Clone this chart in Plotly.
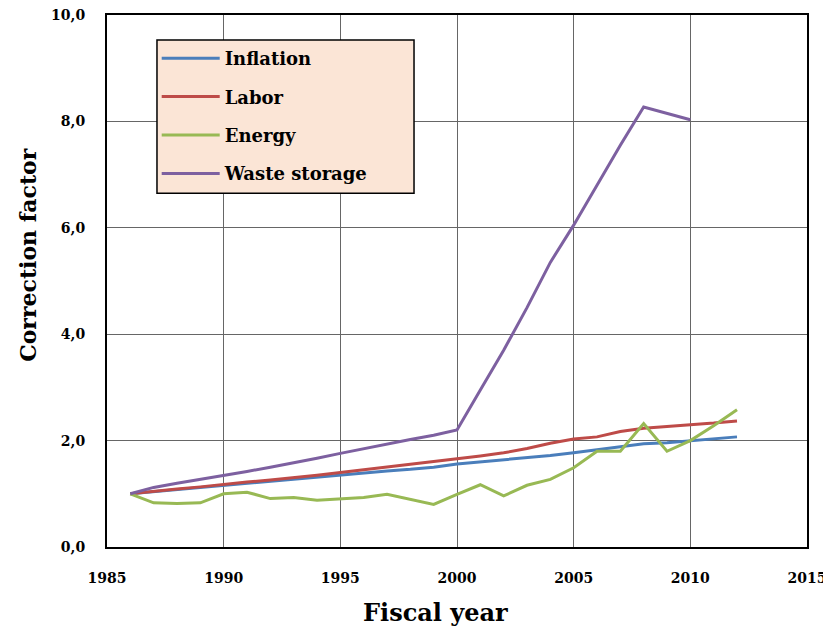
import plotly.graph_objects as go

years_inf = list(range(1986, 2013))
inflation = [1.0, 1.04, 1.08, 1.12, 1.16, 1.2, 1.24, 1.28, 1.31, 1.35, 1.39, 1.43, 1.46, 1.5,
             1.56, 1.6, 1.63, 1.67, 1.72, 1.77, 1.83, 1.88, 1.94, 1.96, 2.0, 2.03, 2.07]
labor = [1.0, 1.05, 1.09, 1.13, 1.18, 1.22, 1.26, 1.3, 1.35, 1.4, 1.45, 1.5, 1.55, 1.6,
         1.66, 1.71, 1.77, 1.85, 1.95, 2.03, 2.07, 2.17, 2.23, 2.27, 2.3, 2.33, 2.37]
energy = [1.0, 0.83, 0.82, 0.83, 1.0, 1.03, 0.91, 0.93, 0.88, 0.9, 0.93, 0.99, 0.9, 0.8,
          0.99, 1.17, 0.96, 1.16, 1.27, 1.49, 1.8, 1.8, 2.32, 1.8, 2.0, 2.28, 2.58]
years_waste = list(range(1986, 2011))
waste = [1.0, 1.12, 1.2, 1.27, 1.35, 1.42, 1.5, 1.58, 1.67, 1.76, 1.85, 1.93, 2.02, 2.1,
         2.2, 2.95, 3.7, 4.5, 5.35, 6.05, 6.8, 7.55, 8.27, 8.15, 8.03]

x_ticks = [1985, 1990, 1995, 2000, 2005, 2010, 2015]
y_ticks = [0, 2, 4, 6, 8, 10]
y_labels = ["0,0", "2,0", "4,0", "6,0", "8,0", "10,0"]

series = [
    ("Inflation", years_inf, inflation, "#4A7EBB"),
    ("Labor", years_inf, labor, "#BE4B48"),
    ("Energy", years_inf, energy, "#98B954"),
    ("Waste storage", years_waste, waste, "#7D60A0"),
]

FONT = "DejaVu Serif"

fig = go.Figure()
for name, xs, ys, col in series:
    fig.add_trace(go.Scatter(x=xs, y=ys, mode="lines", name=name,
                             legendgroup=name,
                             line=dict(color=col, width=3)))

fig.update_layout(
    width=823, height=624,
    margin=dict(l=99, r=24, t=7, b=85),
    paper_bgcolor="white", plot_bgcolor="white",
    font=dict(family=FONT, color="black"),
    legend=dict(x=0.071, y=0.953, xanchor="left", yanchor="top",
                bgcolor="rgba(0,0,0,0)", borderwidth=0,
                font=dict(family=FONT, size=18, color="black", weight="bold"),
                tracegroupgap=12, itemwidth=58, traceorder="grouped"),
    showlegend=True,
    shapes=[
        dict(type="rect", xref="paper", yref="paper",
             x0=0.0714, x1=0.4386, y0=0.665, y1=0.953, layer="above",
             fillcolor="#FBE5D6", line=dict(color="black", width=1.5)),
    ],
    annotations=[
        dict(text="Fiscal year", xref="paper", yref="paper", x=0.469, y=-0.124,
             xanchor="center", yanchor="middle", showarrow=False,
             font=dict(family=FONT, size=24, color="black", weight="bold")),
        dict(text="Correction factor", xref="paper", yref="paper", x=-0.113, y=0.549,
             xanchor="center", yanchor="middle", showarrow=False, textangle=-90,
             font=dict(family=FONT, size=22, color="black", weight="bold")),
    ],
)
fig.update_xaxes(range=[1985, 2015], tickvals=x_ticks, ticktext=[str(v) for v in x_ticks],
                 showgrid=True, gridcolor="#666666", gridwidth=1,
                 showline=True, linecolor="black", linewidth=2, mirror=True,
                 ticks="", zeroline=False, ticklabelstandoff=17, automargin=False,
                 ticklabeloverflow="allow",
                 tickfont=dict(family=FONT, size=14, color="black", weight="bold"))
fig.update_yaxes(range=[0, 10], tickvals=y_ticks, ticktext=y_labels,
                 showgrid=True, gridcolor="#666666", gridwidth=1,
                 showline=True, linecolor="black", linewidth=2, mirror=True,
                 ticks="", zeroline=False, ticklabelstandoff=17, automargin=False,
                 ticklabeloverflow="allow",
                 tickfont=dict(family=FONT, size=14, color="black", weight="bold"))

fig.write_html("out.html")
